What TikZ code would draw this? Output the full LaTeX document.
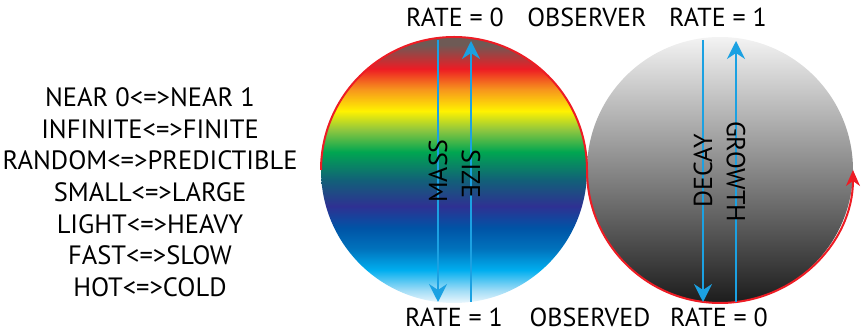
\documentclass[tikz,border=0pt]{standalone}
\usepackage{fontspec}
\setmainfont{PT Sans}
\usetikzlibrary{arrows.meta}

\definecolor{arrowblue}{RGB}{27,161,226}
\definecolor{ringred}{RGB}{237,28,36}
\definecolor{rbA}{RGB}{236,247,253}
\definecolor{rbB}{RGB}{160,220,246}
\definecolor{rbC}{RGB}{0,174,239}
\definecolor{rbD}{RGB}{0,114,188}
\definecolor{rbE}{RGB}{0,84,166}
\definecolor{rbF}{RGB}{46,49,146}
\definecolor{rbG}{RGB}{18,96,120}
\definecolor{rbH}{RGB}{0,166,81}
\definecolor{rbI}{RGB}{141,198,63}
\definecolor{rbJ}{RGB}{255,242,0}
\definecolor{rbK}{RGB}{247,148,29}
\definecolor{rbL}{RGB}{237,28,36}
\definecolor{rbM}{RGB}{110,90,85}

\pgfdeclareverticalshading{rainbow}{100bp}{color(0bp)=(rbA); color(25bp)=(rbA);
  color(27.4bp)=(rbB); color(31.2bp)=(rbC); color(35.2bp)=(rbD); color(39.1bp)=(rbE);
  color(43.2bp)=(rbF); color(48.1bp)=(rbG); color(53.4bp)=(rbH); color(57.5bp)=(rbI);
  color(61.1bp)=(rbJ); color(65.2bp)=(rbK); color(69bp)=(rbL); color(73.5bp)=(rbM);
  color(75bp)=(rbM); color(100bp)=(rbM)}

\tikzset{
  disc/.style={circle, inner sep=0pt, outer sep=0pt, minimum size=266pt},
  flow/.style={arrowblue, line width=2pt, -{Stealth[length=18pt,width=18pt,inset=6pt]}},
  ring/.style={ringred, line width=2pt, -{Stealth[length=16pt,width=14pt,inset=5pt]}},
}

\begin{document}
\begin{tikzpicture}[x=1pt, y=1pt,
  ratetext/.style={anchor=base, font=\fontsize{26}{30}\selectfont},
  pairtext/.style={anchor=base, font=\fontsize{26.5}{30}\selectfont},
  axistext/.style={inner sep=0pt, text=black, font=\fontsize{26}{30}\selectfont}
]
  \useasboundingbox (0,0) rectangle (863,334);
  \node[disc, shade, shading=rainbow] (spectrum) at (454,164) {};
  \node[disc, shade, top color={rgb,255:red,243;green,243;blue,243},
        middle color={rgb,255:red,162;green,163;blue,165},
        bottom color={rgb,255:red,28;green,28;blue,28}] (shade) at (720,164) {};

  \draw[ring] (spectrum.west) arc[start angle=180, end angle=0, radius=133]
                              arc[start angle=180, end angle=360, radius=133];

  \coordinate (massTop) at (438,294);
  \coordinate (massEnd) at (438,32);
  \coordinate (sizeBot) at (471,32);
  \coordinate (sizeEnd) at (471,293);
  \coordinate (decayTop) at (703,294);
  \coordinate (decayEnd) at (703,32);
  \coordinate (growthBot) at (736,32);
  \coordinate (growthEnd) at (736,293);

  \draw[flow] (massTop) -- (massEnd) node[axistext, rotate=90, pos=0.5] {MASS};
  \draw[flow] (sizeBot) -- (sizeEnd) node[axistext, rotate=-90, pos=0.49] {SIZE};
  \draw[flow] (decayTop) -- (decayEnd) node[axistext, rotate=90, pos=0.5] {DECAY};
  \draw[flow] (growthBot) -- (growthEnd) node[axistext, rotate=-90, pos=0.5] {GROWTH};

  \node[ratetext] (rateTopL) at (455,307) {RATE = 0};
  \node[ratetext] (observer) at (587,307) {OBSERVER};
  \node[ratetext] (rateTopR) at (718,307) {RATE = 1};
  \node[ratetext] (rateBotL) at (454,7) {RATE = 1};
  \node[ratetext] (observed) at (590,7) {OBSERVED};
  \node[ratetext] (rateBotR) at (719,7) {RATE = 0};

  \foreach \pair [count=\i] in {NEAR 0<=>NEAR 1, INFINITE<=>FINITE,
      RANDOM<=>PREDICTIBLE, SMALL<=>LARGE, LIGHT<=>HEAVY, FAST<=>SLOW, HOT<=>COLD}
    \node[pairtext] (pair\i) at (150,{227.5-31.67*(\i-1)}) {\pair};
\end{tikzpicture}
\end{document}
